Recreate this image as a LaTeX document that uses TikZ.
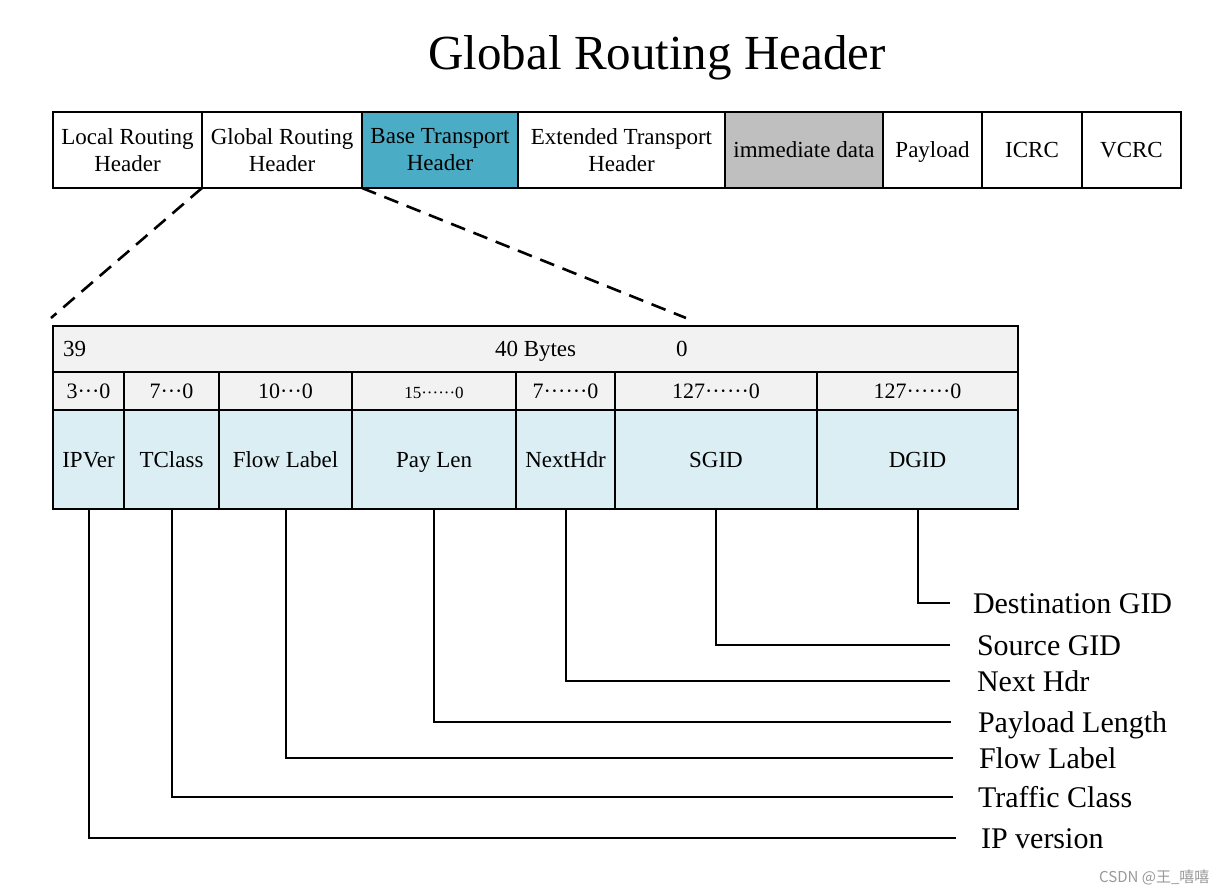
\documentclass[tikz,border=0pt]{standalone}
\usepackage{fontspec}
\setmainfont{Liberation Serif}
\newfontfamily\cjkfont{Noto Sans CJK SC}
\definecolor{btcol}{HTML}{4BACC6}
\definecolor{imcol}{HTML}{BFBFBF}
\definecolor{hdcol}{HTML}{F2F2F2}
\definecolor{fdcol}{HTML}{DAEEF3}
\begin{document}
\begin{tikzpicture}[x=1pt,y=-1pt,
  cell/.style={draw=black, line width=1.6pt, inner sep=0pt, outer sep=0pt, anchor=north west, align=center, font=\fontsize{23}{27}\selectfont},
  oneline/.style={text height=20pt, text depth=5pt},
  topcell/.style={cell, minimum height=76},
  hdcell/.style={cell, text height=19pt, text depth=4.5pt, fill=hdcol, minimum height=38, font=\fontsize{22}{22}\selectfont},
  fdcell/.style={cell, oneline, fill=fdcol, minimum height=99},
  plain/.style={inner sep=0pt, outer sep=0pt, anchor=west, oneline, font=\fontsize{23}{23}\selectfont},
  lbl/.style={inner sep=0pt, outer sep=0pt, anchor=west, text height=26pt, text depth=6pt, font=\fontsize{30}{30}\selectfont},
  lead/.style={draw=black, line width=2pt},
  dashline/.style={draw=black, line width=2.6pt, dash pattern=on 15pt off 9pt}]
\useasboundingbox[fill=white] (0,0) rectangle (1230,893);

% title
\node[font=\fontsize{49}{49}\selectfont, inner sep=0pt] (title) at (657,58) {Global Routing Header};

% top bar
\node[topcell, minimum width=149] (lrh) at (53,112) {Local Routing\\Header};
\node[topcell, minimum width=160] (grh) at (lrh.north east) {Global Routing\\Header};
\node[topcell, minimum width=156, fill=btcol] (bth) at (grh.north east) {Base Transport\\Header};
\node[topcell, minimum width=207] (eth) at (bth.north east) {Extended Transport\\Header};
\node[topcell, oneline, minimum width=158, fill=imcol] (imm) at (eth.north east) {immediate data};
\node[topcell, oneline, minimum width=99] (pay) at (imm.north east) {Payload};
\node[topcell, oneline, minimum width=100] (icrc) at (pay.north east) {ICRC};
\node[topcell, oneline, minimum width=99] (vcrc) at (icrc.north east) {VCRC};

% lower table
\node[cell, fill=hdcol, minimum width=965, minimum height=46] (bytes) at (53,326) {};
\node[plain] (b39) at (63,349) {39};
\node[plain] (b40) at (495,349) {40 Bytes};
\node[plain] (b0) at (676,349) {0};

\node[hdcell, minimum width=71] (r2a) at (53,372) {3···0};
\node[hdcell, minimum width=95] (r2b) at (r2a.north east) {7···0};
\node[hdcell, minimum width=133] (r2c) at (r2b.north east) {10···0};
\node[hdcell, minimum width=164, font=\fontsize{17}{17}\selectfont] (r2d) at (r2c.north east) {15······0};
\node[hdcell, minimum width=99] (r2e) at (r2d.north east) {7······0};
\node[hdcell, minimum width=202] (r2f) at (r2e.north east) {127······0};
\node[hdcell, minimum width=201] (r2g) at (r2f.north east) {127······0};

\node[fdcell, minimum width=71] (ipver) at (53,410) {IPVer};
\node[fdcell, minimum width=95] (tclass) at (ipver.north east) {TClass};
\node[fdcell, minimum width=133] (flow) at (tclass.north east) {Flow Label};
\node[fdcell, minimum width=164] (paylen) at (flow.north east) {Pay Len};
\node[fdcell, minimum width=99] (nexthdr) at (paylen.north east) {NextHdr};
\node[fdcell, minimum width=202] (sgid) at (nexthdr.north east) {SGID};
\node[fdcell, minimum width=201] (dgid) at (sgid.north east) {DGID};

% zoom dashed lines
\coordinate (dl) at (51,318);
\coordinate (dr) at (686,318);
\draw[dashline] (grh.south west) -- (dl);
\draw[dashline] (grh.south east) -- (dr);

% labels
\node[lbl] (lDest) at (973,603) {Destination GID};
\node[lbl] (lSrc) at (977,645) {Source GID};
\node[lbl] (lNext) at (977,681) {Next Hdr};
\node[lbl] (lPay) at (978,722) {Payload Length};
\node[lbl] (lFlow) at (979,758) {Flow Label};
\node[lbl] (lTc) at (978,797) {Traffic Class};
\node[lbl] (lIp) at (981,838) {IP version};

% leader lines
\draw[lead] (dgid.south) |- ([xshift=-23pt]lDest.west);
\draw[lead] (sgid.south) |- ([xshift=-27pt]lSrc.west);
\draw[lead] (nexthdr.south) |- ([xshift=-27pt]lNext.west);
\draw[lead] (paylen.south) |- ([xshift=-27pt]lPay.west);
\draw[lead] (flow.south) |- ([xshift=-26pt]lFlow.west);
\draw[lead] (tclass.south) |- ([xshift=-25pt]lTc.west);
\draw[lead] (ipver.south) |- ([xshift=-25pt]lIp.west);

% watermark
\node[inner sep=0pt, anchor=west, font=\cjkfont\fontsize{15}{15}\selectfont, text=black!40] (wm) at (1099,877) {CSDN @王\_嘻嘻};
\end{tikzpicture}
\end{document}
